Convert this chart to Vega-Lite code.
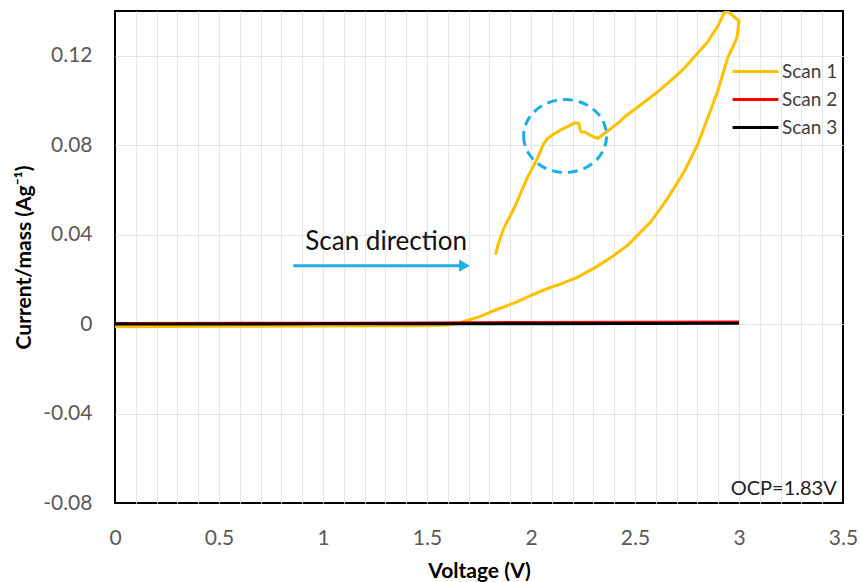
{
  "$schema": "https://vega.github.io/schema/vega-lite/v6.json",
  "width": 728,
  "height": 492,
  "autosize": {"type": "none"},
  "padding": {"left": 115, "top": 11, "right": 17, "bottom": 79},
  "background": "white",
  "config": {
    "view": {"stroke": "#000000", "strokeWidth": 2},
    "font": "Lato",
    "axis": {
      "domain": false,
      "ticks": false,
      "tickSize": 0,
      "labelOverlap": false,
      "labelSeparation": 0,
      "gridColor": "#E6E6E6",
      "gridWidth": 1,
      "labelFont": "Lato",
      "labelFontSize": 21,
      "labelColor": "#595959",
      "titleFont": "Lato",
      "titleFontSize": 21,
      "titleFontWeight": "bold",
      "titleColor": "#000000"
    },
    "legend": {
      "labelFont": "Lato",
      "labelFontSize": 19,
      "labelColor": "#404040",
      "symbolType": "M -1.45 0 H 1.45",
      "symbolStrokeWidth": 3,
      "symbolSize": 1000,
      "rowPadding": 0,
      "labelOffset": 9
    }
  },
  "datasets": {
    "scans": [
      {"scan": "Scan 1", "order": 1, "V": 1.83, "I": 0.031},
      {"scan": "Scan 1", "order": 2, "V": 1.84, "I": 0.035},
      {"scan": "Scan 1", "order": 3, "V": 1.87, "I": 0.043},
      {"scan": "Scan 1", "order": 4, "V": 1.92, "I": 0.052},
      {"scan": "Scan 1", "order": 5, "V": 1.98, "I": 0.065},
      {"scan": "Scan 1", "order": 6, "V": 2.03, "I": 0.074},
      {"scan": "Scan 1", "order": 7, "V": 2.06, "I": 0.0805},
      {"scan": "Scan 1", "order": 8, "V": 2.08, "I": 0.083},
      {"scan": "Scan 1", "order": 9, "V": 2.11, "I": 0.085},
      {"scan": "Scan 1", "order": 10, "V": 2.14, "I": 0.0867},
      {"scan": "Scan 1", "order": 11, "V": 2.18, "I": 0.0885},
      {"scan": "Scan 1", "order": 12, "V": 2.21, "I": 0.09},
      {"scan": "Scan 1", "order": 13, "V": 2.23, "I": 0.0897},
      {"scan": "Scan 1", "order": 14, "V": 2.235, "I": 0.0875},
      {"scan": "Scan 1", "order": 15, "V": 2.24, "I": 0.086},
      {"scan": "Scan 1", "order": 16, "V": 2.26, "I": 0.0858},
      {"scan": "Scan 1", "order": 17, "V": 2.29, "I": 0.0842},
      {"scan": "Scan 1", "order": 18, "V": 2.32, "I": 0.083},
      {"scan": "Scan 1", "order": 19, "V": 2.35, "I": 0.085},
      {"scan": "Scan 1", "order": 20, "V": 2.42, "I": 0.09},
      {"scan": "Scan 1", "order": 21, "V": 2.46, "I": 0.0934},
      {"scan": "Scan 1", "order": 22, "V": 2.52, "I": 0.0975},
      {"scan": "Scan 1", "order": 23, "V": 2.61, "I": 0.1039},
      {"scan": "Scan 1", "order": 24, "V": 2.68, "I": 0.1095},
      {"scan": "Scan 1", "order": 25, "V": 2.74, "I": 0.1147},
      {"scan": "Scan 1", "order": 26, "V": 2.8, "I": 0.121},
      {"scan": "Scan 1", "order": 27, "V": 2.85, "I": 0.1263},
      {"scan": "Scan 1", "order": 28, "V": 2.9, "I": 0.1335},
      {"scan": "Scan 1", "order": 29, "V": 2.93, "I": 0.1395},
      {"scan": "Scan 1", "order": 30, "V": 2.95, "I": 0.1395},
      {"scan": "Scan 1", "order": 31, "V": 3.0, "I": 0.1356},
      {"scan": "Scan 1", "order": 32, "V": 2.99, "I": 0.128},
      {"scan": "Scan 1", "order": 33, "V": 2.945, "I": 0.1189},
      {"scan": "Scan 1", "order": 34, "V": 2.897, "I": 0.1039},
      {"scan": "Scan 1", "order": 35, "V": 2.849, "I": 0.092},
      {"scan": "Scan 1", "order": 36, "V": 2.8, "I": 0.08},
      {"scan": "Scan 1", "order": 37, "V": 2.736, "I": 0.0681},
      {"scan": "Scan 1", "order": 38, "V": 2.656, "I": 0.0561},
      {"scan": "Scan 1", "order": 39, "V": 2.576, "I": 0.0457},
      {"scan": "Scan 1", "order": 40, "V": 2.464, "I": 0.0352},
      {"scan": "Scan 1", "order": 41, "V": 2.38, "I": 0.0295},
      {"scan": "Scan 1", "order": 42, "V": 2.3, "I": 0.0248},
      {"scan": "Scan 1", "order": 43, "V": 2.22, "I": 0.0208},
      {"scan": "Scan 1", "order": 44, "V": 2.143, "I": 0.018},
      {"scan": "Scan 1", "order": 45, "V": 2.077, "I": 0.0158},
      {"scan": "Scan 1", "order": 46, "V": 2.0, "I": 0.0128},
      {"scan": "Scan 1", "order": 47, "V": 1.933, "I": 0.0099},
      {"scan": "Scan 1", "order": 48, "V": 1.87, "I": 0.0077},
      {"scan": "Scan 1", "order": 49, "V": 1.805, "I": 0.0054},
      {"scan": "Scan 1", "order": 50, "V": 1.75, "I": 0.0032},
      {"scan": "Scan 1", "order": 51, "V": 1.693, "I": 0.0016},
      {"scan": "Scan 1", "order": 52, "V": 1.65, "I": 0.0004},
      {"scan": "Scan 1", "order": 53, "V": 1.6, "I": -0.0004},
      {"scan": "Scan 1", "order": 54, "V": 1.5, "I": -0.0007},
      {"scan": "Scan 1", "order": 55, "V": 1.0, "I": -0.0008},
      {"scan": "Scan 1", "order": 56, "V": 0.5, "I": -0.001},
      {"scan": "Scan 1", "order": 57, "V": 0.0, "I": -0.0012},
      {"scan": "Scan 2", "order": 1, "V": 0.0, "I": 0.0003},
      {"scan": "Scan 2", "order": 2, "V": 1.0, "I": 0.0004},
      {"scan": "Scan 2", "order": 3, "V": 1.5, "I": 0.0005},
      {"scan": "Scan 2", "order": 4, "V": 2.0, "I": 0.0007},
      {"scan": "Scan 2", "order": 5, "V": 2.5, "I": 0.0008},
      {"scan": "Scan 2", "order": 6, "V": 3.0, "I": 0.0009},
      {"scan": "Scan 3", "order": 1, "V": 0.0, "I": 0.0},
      {"scan": "Scan 3", "order": 2, "V": 1.0, "I": 0.0001},
      {"scan": "Scan 3", "order": 3, "V": 1.5, "I": 0.0001},
      {"scan": "Scan 3", "order": 4, "V": 2.0, "I": 0.0002},
      {"scan": "Scan 3", "order": 5, "V": 2.5, "I": 0.0003},
      {"scan": "Scan 3", "order": 6, "V": 3.0, "I": 0.0004}
    ],
    "arrow": [{"V": 0.857, "V2": 1.68, "I": 0.0261}],
    "arrowhead": [{"V": 1.68, "I": 0.0261}],
    "circle": [{"V": 2.164, "I": 0.0841}],
    "labels": [
      {"text": "Scan direction", "V": 0.915, "I": 0.0365}
    ],
    "ocp": [
      {"text": "OCP=1.83V", "V": 3.47, "I": -0.0738}
    ]
  },
  "encoding": {
    "x": {
      "field": "V", "type": "quantitative",
      "scale": {"domain": [0, 3.5], "nice": false, "zero": false},
      "axis": {
        "title": "Voltage (V)",
        "values": [0, 0.1, 0.2, 0.3, 0.4, 0.5, 0.6, 0.7, 0.8, 0.9, 1, 1.1, 1.2, 1.3, 1.4, 1.5, 1.6, 1.7, 1.8, 1.9, 2, 2.1, 2.2, 2.3, 2.4, 2.5, 2.6, 2.7, 2.8, 2.9, 3, 3.1, 3.2, 3.3, 3.4, 3.5],
        "labelExpr": "round(datum.value*10) % 5 == 0 ? format(datum.value, '~g') : ''",
        "labelOverlap": false,
        "labelFlush": false,
        "labelPadding": 24,
        "titlePadding": 12,
        "gridOpacity": {"condition": {"test": "datum.value <= 0 || datum.value >= 3.5", "value": 0}, "value": 1}
      }
    },
    "y": {
      "field": "I", "type": "quantitative",
      "scale": {"domain": [-0.08, 0.14], "nice": false, "zero": false},
      "axis": {
        "title": "Current/mass (Ag⁻¹)",
        "values": [-0.08, -0.04, 0, 0.04, 0.08, 0.12],
        "labelExpr": "replace(format(datum.value, '~g'), '−', '-')",
        "labelPadding": 23,
        "titlePadding": 8,
        "gridOpacity": {"condition": {"test": "datum.value < -0.07", "value": 0}, "value": 1}
      }
    }
  },
  "layer": [
    {
      "data": {"name": "scans"},
      "mark": {"type": "line", "strokeWidth": 3, "strokeJoin": "round", "clip": true},
      "encoding": {
        "color": {
          "field": "scan", "type": "nominal",
          "scale": {"domain": ["Scan 1", "Scan 2", "Scan 3"], "range": ["#FFC000", "#FF0000", "#000000"]},
          "legend": {"title": null, "orient": "none", "legendX": 623, "legendY": 43}
        },
        "order": {"field": "order", "type": "quantitative"}
      }
    },
    {
      "data": {"name": "arrow"},
      "mark": {"type": "rule", "color": "#1DAEE5", "strokeWidth": 3},
      "encoding": {
        "x2": {"field": "V2"}
      }
    },
    {
      "data": {"name": "arrowhead"},
      "mark": {"type": "point", "shape": "triangle-right", "filled": true, "color": "#1DAEE5", "size": 150, "opacity": 1},
      "encoding": {}
    },
    {
      "data": {"name": "circle"},
      "mark": {"type": "point", "shape": "M -1 0 A 1 0.88 0 1 0 1 0 A 1 0.88 0 1 0 -1 0 Z", "filled": false, "stroke": "#1DAEE5", "strokeWidth": 3, "strokeDash": [10, 6], "size": 6889, "opacity": 1},
      "encoding": {}
    },
    {
      "data": {"name": "labels"},
      "mark": {"type": "text", "align": "left", "baseline": "middle", "fontSize": 26, "font": "Lato", "color": "#111111"},
      "encoding": {
        "text": {"field": "text"}
      }
    },
    {
      "data": {"name": "ocp"},
      "mark": {"type": "text", "align": "right", "baseline": "middle", "fontSize": 20, "font": "Lato", "color": "#222222"},
      "encoding": {
        "text": {"field": "text"}
      }
    }
  ]
}
